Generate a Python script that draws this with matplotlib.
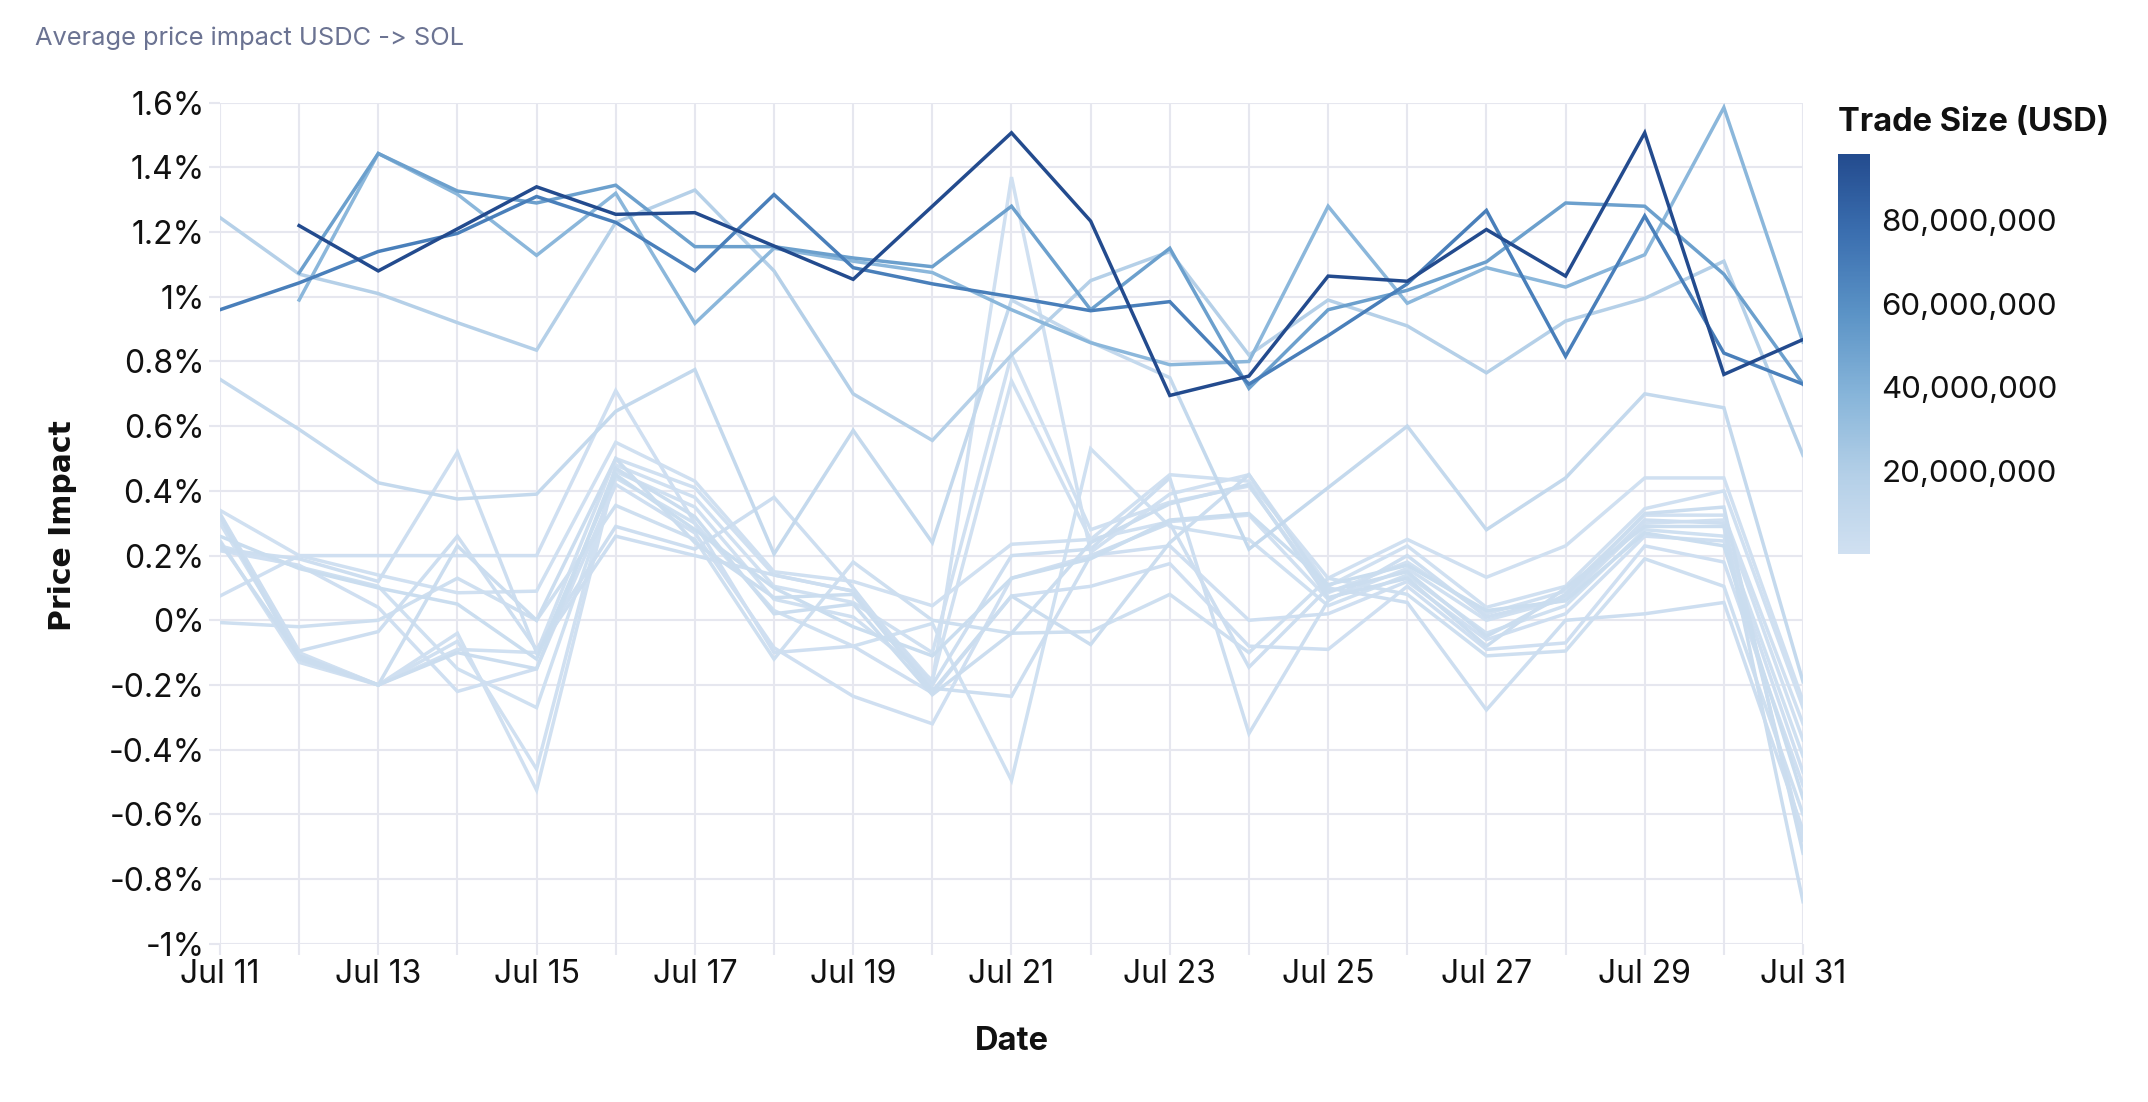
import numpy as np
import pandas as pd
import matplotlib
matplotlib.use("Agg")
import matplotlib.dates as mdates
from matplotlib import pyplot as plt
from matplotlib.colors import LinearSegmentedColormap, Normalize
from matplotlib.ticker import FuncFormatter, MultipleLocator

plt.rcParams.update({'font.family': ['Inter', 'DejaVu Sans']})

## data (price impact in %, one row per trade size)
dates = pd.date_range("2023-07-11", "2023-07-31", freq="D")
nan = np.nan

trade_sizes = [10_000, 50_000, 100_000, 250_000, 500_000, 750_000, 1_000_000,
               1_500_000, 2_000_000, 2_500_000, 3_000_000, 3_500_000, 4_000_000,
               8_000_000, 18_000_000, 36_000_000, 50_000_000, 68_000_000, 96_000_000]

impact = [
    [0.34, 0.20, 0.14, 0.085, 0.09, 0.55, 0.43, 0.15, 0.12, 0.045, 0.235, 0.25, 0.45, 0.43, 0.13, 0.25, 0.133, 0.23, 0.44, 0.44, -0.25],
    [0.325, -0.10, -0.20, -0.09, -0.10, 0.50, 0.41, 0.14, 0.09, -0.19, 1.37, 0.21, 0.39, 0.45, 0.105, 0.23, 0.04, 0.105, 0.345, 0.40, -0.27],
    [0.30, -0.105, -0.20, -0.065, -0.46, 0.48, 0.38, 0.105, 0.055, -0.10, 0.82, 0.28, 0.365, 0.415, 0.085, 0.18, 0.02, 0.09, 0.325, 0.325, -0.32],
    [0.247, -0.13, -0.20, -0.04, -0.525, 0.46, 0.35, 0.065, 0.01, -0.185, 0.74, 0.25, 0.305, 0.325, 0.065, 0.16, 0.0, 0.065, 0.30, 0.31, -0.37],
    [0.23, 0.165, 0.105, -0.15, -0.27, 0.44, 0.30, 0.03, -0.08, -0.01, -0.495, 0.53, 0.29, 0.25, 0.045, 0.14, -0.04, 0.045, 0.28, 0.26, -0.42],
    [0.215, 0.17, 0.04, -0.22, -0.15, 0.42, 0.27, -0.085, -0.235, -0.32, 0.13, 0.20, 0.23, 0.0, 0.02, 0.12, -0.06, 0.02, 0.26, 0.245, -0.47],
    [0.075, 0.20, 0.20, 0.20, 0.20, 0.71, 0.30, -0.10, -0.08, -0.225, 0.075, 0.105, 0.175, -0.08, -0.09, 0.105, -0.09, -0.07, 0.23, 0.18, -0.51],
    [-0.007, -0.02, 0.0, 0.13, 0.0, 0.355, 0.25, -0.12, 0.18, 0.0, -0.04, -0.035, 0.08, -0.10, 0.13, 0.08, -0.11, -0.095, 0.19, 0.105, -0.60],
    [0.33, -0.095, -0.035, 0.26, -0.09, 0.29, 0.22, 0.38, 0.10, -0.21, -0.235, 0.20, 0.30, -0.145, 0.10, 0.055, -0.277, 0.0, 0.02, 0.055, -0.65],
    [0.22, 0.19, 0.12, 0.52, -0.10, 0.26, 0.20, 0.14, 0.09, -0.20, 0.20, 0.22, 0.44, -0.35, 0.06, 0.20, 0.01, 0.07, 0.31, 0.30, -0.68],
    [0.24, -0.11, -0.20, 0.23, 0.0, 0.50, 0.24, 0.07, 0.08, -0.22, 0.075, -0.075, 0.24, 0.45, 0.09, 0.15, -0.05, 0.08, 0.33, 0.35, -0.72],
    [0.32, -0.12, -0.20, -0.10, -0.15, 0.47, 0.32, 0.02, 0.05, -0.23, -0.04, 0.24, 0.36, 0.42, 0.07, 0.13, -0.08, 0.10, 0.29, 0.29, -0.87],
    [0.26, 0.16, 0.10, 0.05, -0.12, 0.45, 0.28, 0.10, -0.02, -0.11, 0.13, 0.19, 0.31, 0.33, 0.11, 0.17, 0.03, 0.06, 0.27, 0.23, -0.55],
    [0.745, 0.59, 0.425, 0.375, 0.39, 0.646, 0.775, 0.205, 0.587, 0.24, 0.99, 0.86, 0.75, 0.22, 0.41, 0.60, 0.28, 0.44, 0.70, 0.657, -0.19],
    [1.245, 1.07, 1.01, 0.92, 0.835, 1.23, 1.33, 1.08, 0.70, 0.556, 0.82, 1.05, 1.14, 0.82, 0.99, 0.91, 0.765, 0.925, 0.995, 1.11, 0.51],
    [nan, 0.99, 1.443, 1.317, 1.128, 1.32, 0.918, 1.15, 1.11, 1.075, 0.96, 0.858, 0.79, 0.80, 1.28, 0.98, 1.09, 1.03, 1.13, 1.585, 0.86],
    [nan, 1.074, 1.443, 1.327, 1.29, 1.345, 1.155, 1.155, 1.12, 1.093, 1.28, 0.96, 1.15, 0.717, 0.96, 1.02, 1.108, 1.29, 1.28, 1.07, 0.73],
    [0.96, 1.043, 1.14, 1.196, 1.31, 1.23, 1.08, 1.316, 1.09, 1.04, 1.0, 0.957, 0.985, 0.73, 0.88, 1.04, 1.267, 0.816, 1.25, 0.826, 0.73],
    [nan, 1.22, 1.08, 1.21, 1.34, 1.255, 1.26, 1.157, 1.054, 1.28, 1.507, 1.234, 0.695, 0.755, 1.064, 1.048, 1.208, 1.064, 1.507, 0.76, 0.868],
]

cbar_ticks = [20_000_000, 40_000_000, 60_000_000, 80_000_000]

## styling
grid_col = "#e6e7ef"
cmap = LinearSegmentedColormap.from_list(
    "trade", [(0.0, "#d0e0f1"), (0.2, "#b3cfe7"), (0.4, "#86b4d9"),
              (0.6, "#5b93c6"), (0.8, "#3b6fb0"), (1.0, "#234b8e")])
norm = Normalize(vmin=0, vmax=96_000_000)

fig = plt.figure(figsize=(21.48, 11.02), dpi=100)
ax = fig.add_axes([0.1024, 0.1436, 0.7370, 0.7632])

for size, vals in zip(trade_sizes, impact):
    ax.plot(dates, vals, color=cmap(norm(size)), lw=2.5, solid_joinstyle="miter")

ax.set_xlim(dates[0], dates[-1])
ax.set_ylim(-1, 1.6)
ax.yaxis.set_major_locator(MultipleLocator(0.2))
ax.yaxis.set_major_formatter(FuncFormatter(lambda v, p: f"{round(v, 1) + 0.0:g}%"))
ax.xaxis.set_major_locator(mdates.DayLocator(interval=2))
ax.xaxis.set_minor_locator(mdates.DayLocator())
ax.xaxis.set_major_formatter(mdates.DateFormatter("%b %d"))

ax.grid(True, which="both", color=grid_col, lw=1.5)
ax.set_axisbelow(True)
for s in ax.spines.values():
    s.set_visible(False)
ax.tick_params(which="both", color=grid_col, width=1.5, length=8, labelsize=23, labelcolor="#111111")
ax.tick_params(axis="x", which="both", pad=3)
ax.tick_params(axis="y", pad=3)

ax.set_xlabel("Date", fontsize=23.5, fontweight="bold", labelpad=26, color="#111111")
fig.text(0.029, 0.523, "Price Impact", rotation=90, ha="center", va="center",
         fontsize=21.5, fontweight="bold", family="DejaVu Sans", color="#111111")

fig.text(0.0163, 0.965, "Average price impact USDC -> SOL", fontsize=18.3, color="#6b7392",
         ha="left", va="center")

## colorbar
cax = fig.add_axes([0.8557, 0.4973, 0.0149, 0.3633])
sm = matplotlib.cm.ScalarMappable(norm=norm, cmap=cmap)
cb = fig.colorbar(sm, cax=cax, orientation="vertical")
cb.outline.set_visible(False)
cb.set_ticks(cbar_ticks)
cb.ax.yaxis.set_major_formatter(FuncFormatter(lambda v, p: f"{int(v):,}"))
cb.ax.tick_params(length=0, labelsize=22.5, pad=8, labelcolor="#111111")
fig.text(0.8557, 0.889, "Trade Size (USD)", fontsize=23.5, fontweight="bold", ha="left",
         va="center", color="#111111")

fig.savefig("out.png", dpi=100, facecolor="white")
